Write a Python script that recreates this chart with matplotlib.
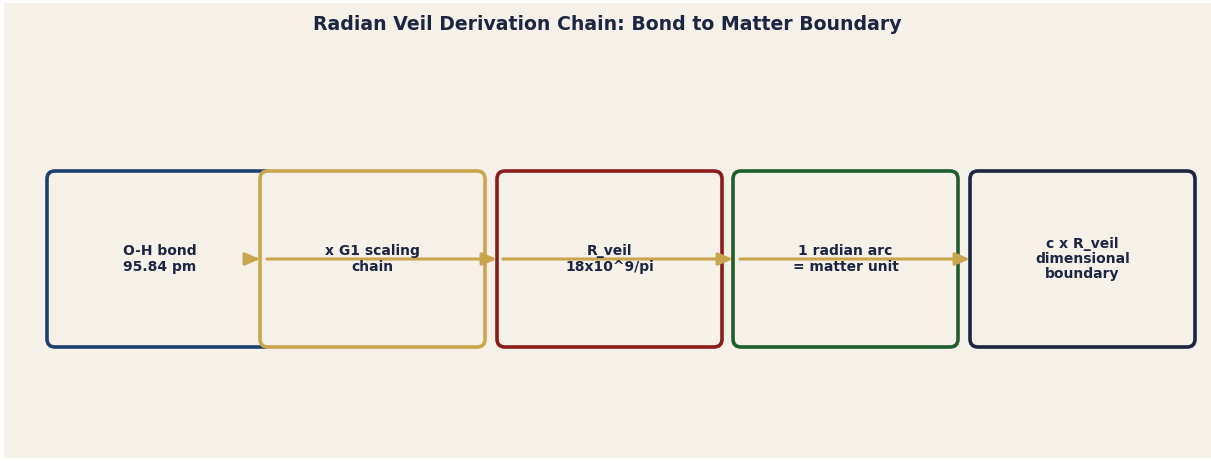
#!/usr/bin/env python3
""" radian veil derivation chain """
import matplotlib
matplotlib.use('Agg')
import matplotlib.pyplot as plt
from matplotlib.patches import FancyBboxPatch, FancyArrowPatch

# chain steps
labels = ['O-H bond\n95.84 pm',
          'x G1 scaling\nchain',
          'R_veil\n18x10^9/pi',
          '1 radian arc\n= matter unit',
          'c x R_veil\ndimensional\nboundary']
edge_colors = ['#1f3f6e', '#c9a64e', '#8b1c1c', '#1d5e2b', '#1c2541']
box_x = [1.555, 3.685, 6.055, 8.415, 10.785]
box_y = 1.99
box_w = 2.25
box_h = 1.76

# arrow tails, heads land on the next box's left edge
arrow_tails = [2.50, 2.63, 4.99, 7.36]

bg = '#f5f0e8'
ink = '#1c2541'
gold = '#c9a64e'


def main():
    fig = plt.figure(figsize=(12.11, 4.61), dpi=100, facecolor='white')
    ax = fig.add_axes([4 / 1211, 3 / 461, 1207 / 1211, 455 / 461])
    ax.set_facecolor(bg)
    ax.set_xlim(0, 12.07)
    ax.set_ylim(0, 4.55)
    ax.set_xticks([])
    ax.set_yticks([])
    for s in ax.spines.values():
        s.set_visible(False)

    for i, (lab, col, cx) in enumerate(zip(labels, edge_colors, box_x)):
        box = FancyBboxPatch((cx - box_w / 2, box_y - box_h / 2), box_w, box_h,
                             boxstyle='round,pad=0,rounding_size=0.08',
                             facecolor=bg, edgecolor=col, linewidth=2.6,
                             zorder=2 + i * 0.01)
        ax.add_patch(box)
        ax.text(cx, box_y, lab, ha='center', va='center', fontsize=10,
                fontweight='bold', color=ink, zorder=5, linespacing=1.1)

    for i, tail in enumerate(arrow_tails):
        head = box_x[i + 1] - box_w / 2
        arr = FancyArrowPatch((tail, box_y), (head, box_y),
                              arrowstyle='-|>,head_length=0.58,head_width=0.25',
                              mutation_scale=15, color=gold, linewidth=2.2,
                              shrinkA=0, shrinkB=0, zorder=4)
        ax.add_patch(arr)

    ax.text(6.035, 4.33, 'Radian Veil Derivation Chain: Bond to Matter Boundary',
            ha='center', va='center', fontsize=13.6, fontweight='bold', color=ink)

    fig.savefig('out.png', dpi=100, facecolor='white')


if __name__ == '__main__':
    main()
